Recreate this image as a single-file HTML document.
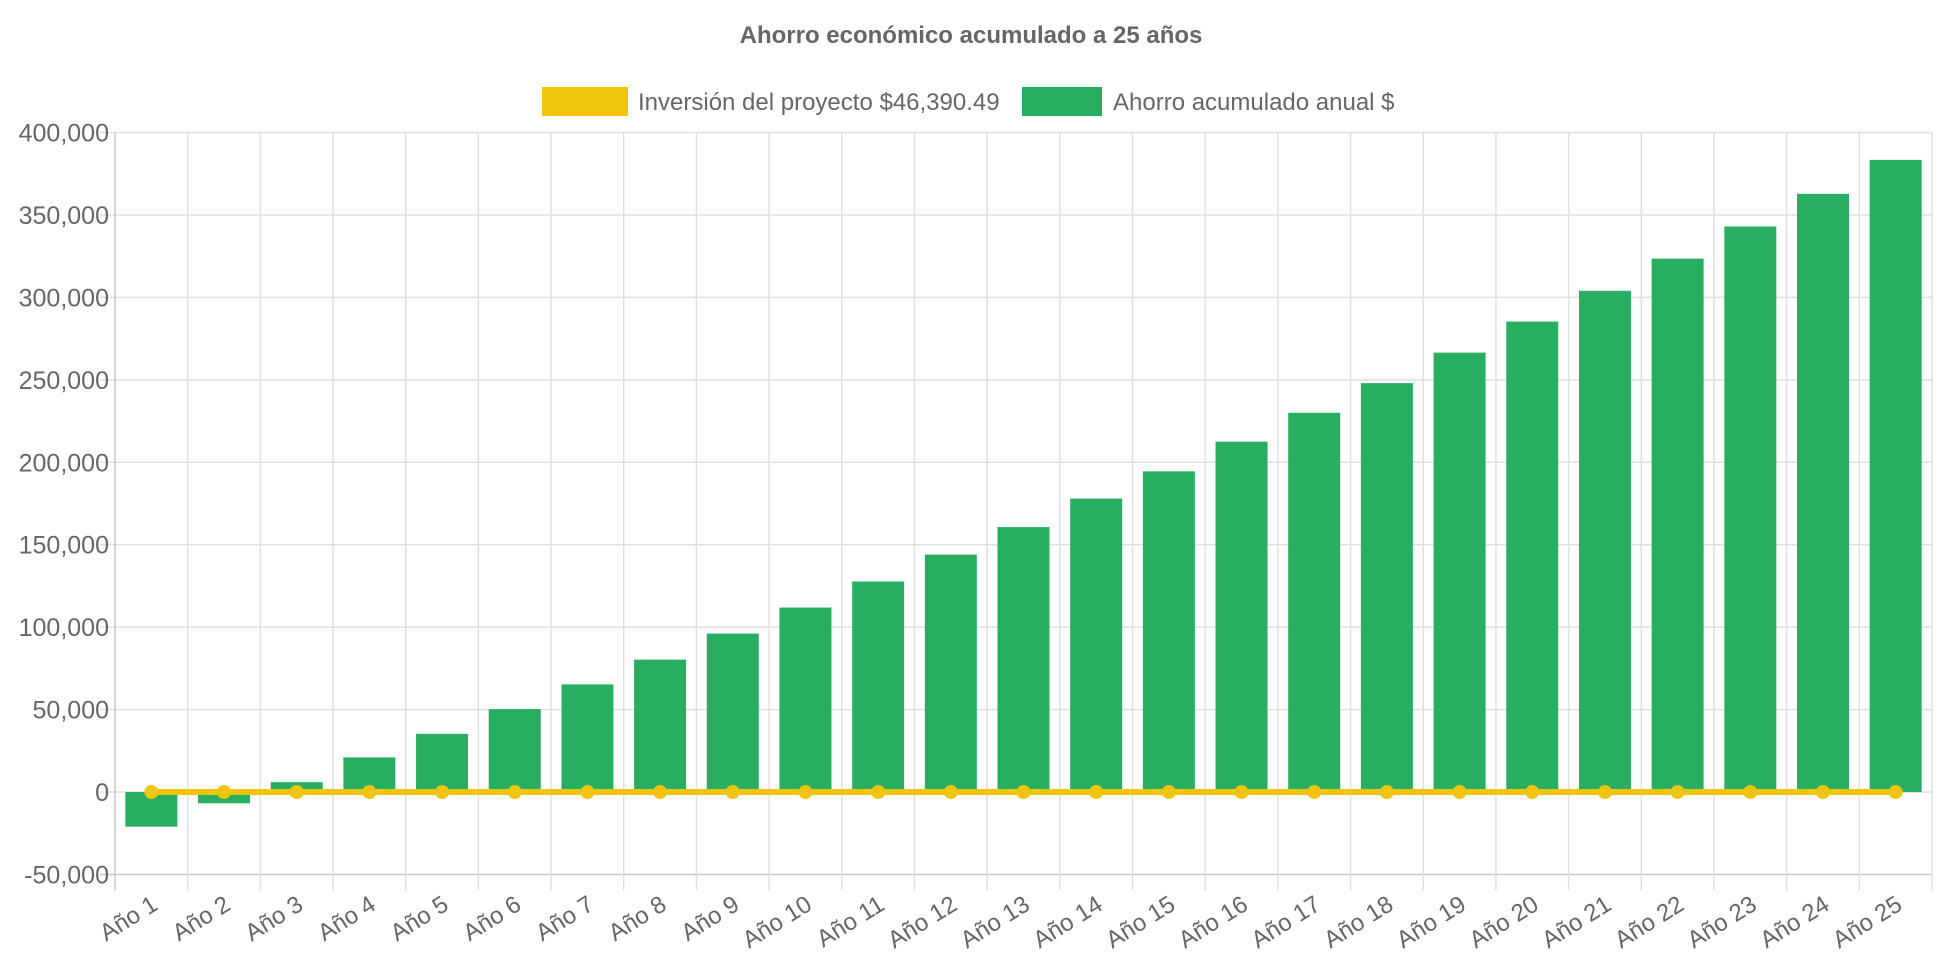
<!DOCTYPE html>
<html><head><meta charset="utf-8">
<style>
html,body{margin:0;padding:0;background:#fff;}
svg{display:block;font-family:"Liberation Sans",sans-serif;}
</style></head>
<body>
<svg id="chart" width="1942" height="970" viewBox="0 0 1942 970" xmlns="http://www.w3.org/2000/svg">
<text x="971" y="43" text-anchor="middle" font-size="24" font-weight="bold" fill="#666">Ahorro económico acumulado a 25 años</text>
<g>
<rect x="542" y="87" width="86" height="29" fill="#f1c40f"/>
<text x="638" y="110" font-size="24" fill="#666">Inversión del proyecto $46,390.49</text>
</g>
<g>
<rect x="1022" y="87" width="80" height="29" fill="#27ae60"/>
<text x="1113" y="110" font-size="24" fill="#666">Ahorro acumulado anual $</text>
</g>
<g id="grid"></g>
<g id="bars"></g>
<g id="line"></g>
<g id="labels"></g>
</svg>
<script>
const categories = ["Año 1","Año 2","Año 3","Año 4","Año 5","Año 6","Año 7","Año 8","Año 9","Año 10","Año 11","Año 12","Año 13","Año 14","Año 15","Año 16","Año 17","Año 18","Año 19","Año 20","Año 21","Año 22","Año 23","Año 24","Año 25"];
const savings = [-21000,-6800,6000,21000,35300,50300,65300,80300,96100,111900,127700,144000,160700,178000,194500,212500,230000,248000,266500,285300,304000,323500,343000,362800,383400];
const investmentLine = [0,0,0,0,0,0,0,0,0,0,0,0,0,0,0,0,0,0,0,0,0,0,0,0,0];
const yTicks = [400000,350000,300000,250000,200000,150000,100000,50000,0,-50000];
const yTickLabels = ["400,000","350,000","300,000","250,000","200,000","150,000","100,000","50,000","0","-50,000"];

const NS="http://www.w3.org/2000/svg";
const L=115,R=1932,T=132.5,B=874.5,yMax=400000,yMin=-50000;
const y=v=>T+(yMax-v)/(yMax-yMin)*(B-T);
const bw=(R-L)/categories.length;
const xc=i=>L+bw*(i+0.5);
function mk(tag,attrs,parent){const e=document.createElementNS(NS,tag);for(const k in attrs)e.setAttribute(k,attrs[k]);parent.appendChild(e);return e;}
const grid=document.getElementById('grid'),bars=document.getElementById('bars'),line=document.getElementById('line'),labels=document.getElementById('labels');
yTicks.forEach((t,i)=>{
  const g=mk('line',{x1:L-15,x2:R,y1:y(t),y2:y(t),stroke:(t===yMin)?'#c8c8c8':'#e0e0e0','stroke-width':1.5},grid);
  
  
  const tx=mk('text',{x:109,y:y(t)+9,'text-anchor':'end','font-size':25,fill:'#666'},labels);
  tx.textContent=yTickLabels[i];
  
  
});
for(let i=0;i<=categories.length;i++){
  const x=L+bw*i;
  const g=mk('line',{x1:x,x2:x,y1:T,y2:B+16,stroke:i===0?'#c8c8c8':'#e0e0e0','stroke-width':1.5},grid);
  
  
}
categories.forEach((c,i)=>{
  const v=savings[i];
  const top=Math.min(y(v),y(0)),h=Math.abs(y(v)-y(0));
  const r=mk('rect',{x:xc(i)-26,y:top,width:52,height:h,fill:'#27ae60'},bars);
  
  
  const tx=mk('text',{x:0,y:0,'text-anchor':'end','font-size':24,fill:'#666',transform:`translate(${xc(i)+8},${B+34}) rotate(-32)`},labels);
  tx.textContent=c;
  
  
});
let d='';
investmentLine.forEach((v,i)=>{d+=(i?'L':'M')+xc(i)+','+y(v);});
const p=mk('path',{d:d,fill:'none',stroke:'#f1c40f','stroke-width':6},line);


investmentLine.forEach((v,i)=>{
  const c=mk('circle',{cx:xc(i),cy:y(v),r:7,fill:'#f1c40f'},line);
  
  
});
</script>
</body></html>
